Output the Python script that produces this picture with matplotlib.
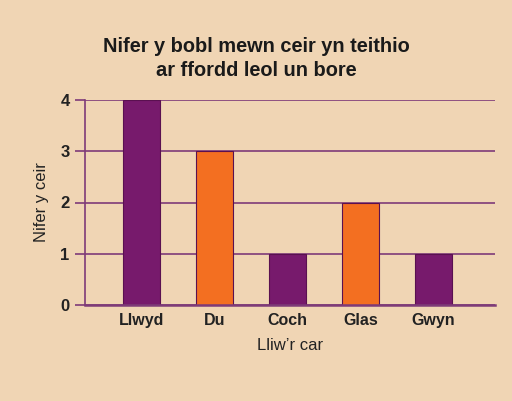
import matplotlib
matplotlib.use("Agg")
import matplotlib.pyplot as plt

# ---- data ----------------------------------------------------
colours = ["Llwyd", "Du", "Coch", "Glas", "Gwyn"]
cars = [4, 3, 1, 2, 1]
yticks = [0, 1, 2, 3, 4]

PURPLE = "#771A6C"
ORANGE = "#F36F21"
BG = "#F0D5B4"
LINE = "#7E3B78"
bar_cols = [PURPLE, ORANGE, PURPLE, ORANGE, PURPLE]

plt.rcParams["font.family"] = ["Liberation Sans", "DejaVu Sans"]

fig = plt.figure(figsize=(5.12, 4.01), dpi=100, facecolor=BG)
ax = fig.add_axes([85 / 512, 96 / 401, 410 / 512, 205 / 401])
ax.set_facecolor(BG)

x = list(range(len(colours)))
ax.bar(x, cars, width=0.5, color=bar_cols, edgecolor="#5A1050", linewidth=0.8, zorder=3)

ax.set_xlim(-0.774, 4.84)
ax.set_ylim(0, 4)
ax.set_yticks(yticks)
ax.set_yticklabels([str(t) for t in yticks], fontsize=12, fontweight="bold", color="#222222")
ax.set_xticks(x)
ax.set_xticklabels(colours, fontsize=11.5, fontweight="bold", color="#222222")
ax.tick_params(axis="x", length=0, pad=6)
ax.tick_params(axis="y", length=7, width=1.2, color=LINE, pad=4)

ax.grid(axis="y", color=LINE, lw=1.2, zorder=1)
for s in ["top", "right"]:
    ax.spines[s].set_visible(False)
ax.spines["left"].set_color(LINE)
ax.spines["left"].set_linewidth(1.2)
ax.spines["bottom"].set_color(LINE)
ax.spines["bottom"].set_linewidth(1.8)
ax.spines["left"].set_zorder(4)
ax.spines["bottom"].set_zorder(4)

ax.set_ylabel("Nifer y ceir", fontsize=12, color="#222222", labelpad=8)
ax.set_xlabel("Lliw\u2019r car", fontsize=12, color="#222222", labelpad=7)

fig.text(0.5, 1 - 46 / 401, "Nifer y bobl mewn ceir yn teithio", ha="center", va="center",
         fontsize=14.4, fontweight="bold", color="#1A1A1A")
fig.text(0.5, 1 - 71 / 401, "ar ffordd leol un bore", ha="center", va="center",
         fontsize=14.4, fontweight="bold", color="#1A1A1A")

fig.savefig("out.png", dpi=100, facecolor=BG)
